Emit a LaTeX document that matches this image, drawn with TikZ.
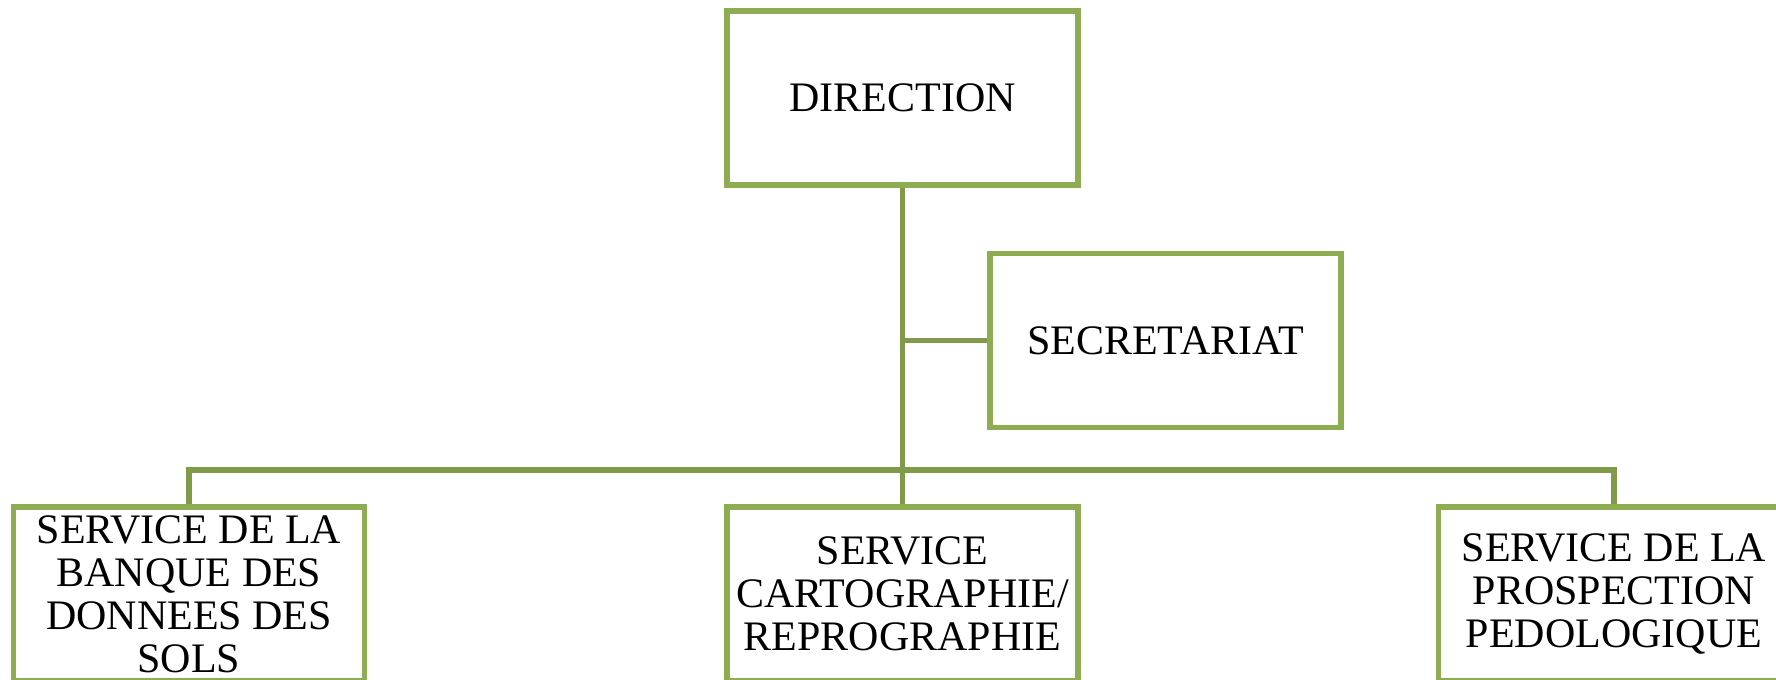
\documentclass[tikz,border=0pt]{standalone}
\usepackage{fontspec}
\setmainfont{Liberation Serif}
\definecolor{boxgreen}{HTML}{8EAC52}
\definecolor{linkgreen}{HTML}{7F9B49}
\tikzset{
  unit/.style={draw=boxgreen,line width=3.1pt,fill=white,inner sep=0pt,
    minimum width=7.02cm,minimum height=3.48cm,align=center,
    font=\fontsize{23.9}{24.4}\selectfont},
  link/.style={draw=linkgreen,line width=3.1pt}
}
\begin{document}
\begin{tikzpicture}
\useasboundingbox (0,0) rectangle (35.52,13.6);
\clip (0,0) rectangle (35.52,13.6);
% boxes
\node[unit] (dir) at (18.05,11.64) {DIRECTION};
\node[unit] (sec) at (23.31,6.79) {SECRETARIAT};
\node[unit] (banque) at (3.78,1.72) {SERVICE DE LA\\BANQUE DES\\DONNEES DES\\SOLS};
\node[unit] (carto) at (18.05,1.72) {SERVICE\\CARTOGRAPHIE/\\REPROGRAPHIE};
\node[unit] (prosp) at (32.28,1.72) {SERVICE DE LA\\PROSPECTION\\PEDOLOGIQUE};
% links
\coordinate (bus) at (18.05,4.2);
\draw[link] (dir.south) -- (carto.north);
\draw[link] (sec.west) -- (sec.west -| dir.south);
\draw[link] (banque.north) |- (bus) -| (prosp.north);
\end{tikzpicture}
\end{document}
